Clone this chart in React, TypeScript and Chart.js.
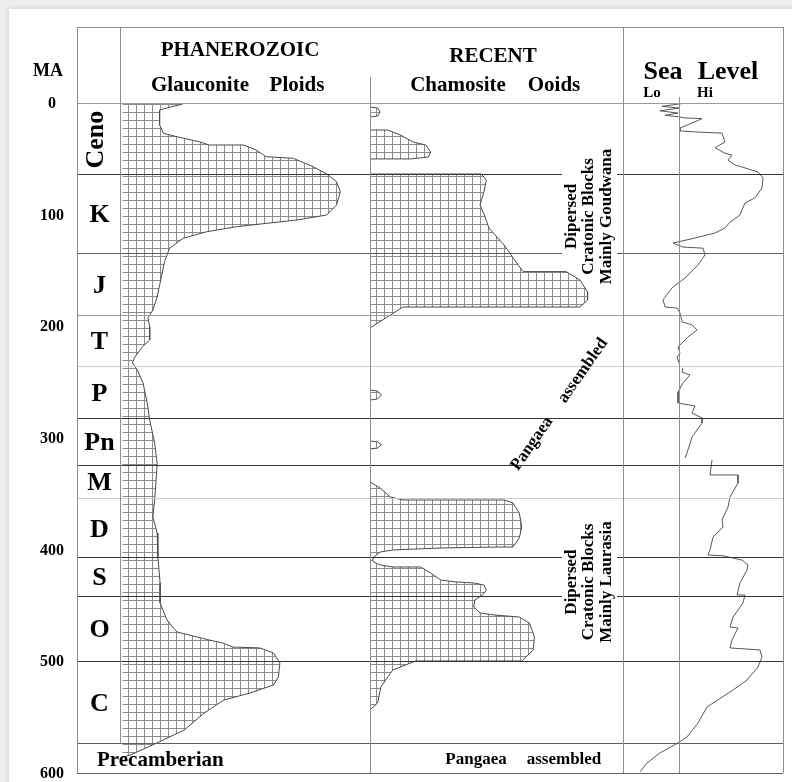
import React, { useEffect, useRef } from 'react';
import { Chart, registerables } from 'chart.js';

Chart.register(...registerables);

// Age axis (millions of years)
const ageTicks = [0, 100, 200, 300, 400, 500, 600];

// Geological periods: name and age of the lower boundary (Ma)
const periodNames = ['Ceno', 'K', 'J', 'T', 'P', 'Pn', 'M', 'D', 'S', 'O', 'C', 'Precamberian'];
const periodBase = [64, 134, 190, 235.5, 282, 324, 354, 407, 441.5, 500, 573, 600];
const boundaryTone = ['dark', 'mid', 'soft', 'light', 'dark', 'dark', 'light', 'dark', 'dark', 'dark', 'mid'];

// Phanerozoic glauconite ploids: relative abundance against age
const glaucAge = [0, 1.2, 3.3, 6.3, 19.7, 27.1, 30.2, 34.7, 37.6, 37.6, 42.1, 48.1, 49.5, 57, 63.6, 70.5, 79.4, 91.3, 100.3, 104.8,
  107.7, 110.8, 115.3, 121.2, 130.1, 142.1, 173.7, 185.3, 192.5, 200.6, 212.2, 218.5, 227.5, 232.8, 239.1, 250.7, 268.7, 283.9, 304.5, 322.4,
  340.3, 355.5, 370.7, 385.1, 406.6, 429.8, 447.7, 463, 473.7, 480.9, 483.6, 487.2, 488, 492.5, 501.5, 514, 521.2, 528.4, 534.6, 546.3,
  561.5, 570.5, 576.8, 584, 586];
const glaucValue = [24, 24, 20, 15, 15, 16.5, 22, 31, 35, 49, 54, 58, 69, 77, 82.5, 86.5, 88, 86.5, 82.5, 70.5,
  58.5, 46, 34, 24.5, 19, 17, 14, 12.3, 10.3, 11, 11, 8, 5, 4, 6, 8.3, 10, 11, 13, 14,
  13.5, 13, 12.3, 14, 14.3, 15.2, 15.2, 18, 22, 35, 40.5, 44.5, 55.5, 61, 63.6, 63, 61, 51.5, 41, 33,
  25, 16.4, 10.3, 3, 0];

// Recent chamosite ooids: relative abundance against age
const chamAge = [3.6, 4.5, 8.1, 11.7, 12.5,
  24.2, 24.2, 28.7, 34.9, 37.6, 43.9, 48.4, 50.1, 50.1,
  63.6, 63.6, 69, 79.7, 91.3, 102.1, 111.9, 127.2, 143.3, 151, 151, 158.5, 169.3, 176.4, 182.7, 182.7, 201.5,
  257, 258, 261.5, 265, 266,
  302.7, 303.5, 306, 309, 309.8,
  339.4, 344.8, 352.8, 355.5, 355.5, 358.2, 367.2, 379.7, 389.5, 397.6, 397.6, 398.5, 400.3, 402.1, 406.6,
  409.3, 411, 413.7, 415.5, 415.5, 420.9, 427.2, 428.9, 429.8, 431.6, 436.1, 440.6, 445, 451.3, 456.7,
  458.5, 460.3, 465.7, 478.2, 489.8, 499.7, 499.7, 503.3, 507.8, 514, 523, 537.3, 543.5];
const chamValue = [0, 3, 4, 3, 0,
  0, 7, 12, 17, 22, 24, 23, 16, 0,
  0, 44, 46, 45, 43.5, 45.5, 47, 53, 58, 60.5, 77.5, 83, 86, 86, 83, 13, 0,
  0, 3, 4.5, 3, 0,
  0, 3, 4.5, 3, 0,
  0, 4, 8, 13, 53, 56.5, 59, 60, 59, 56.5, 51, 28, 9, 4, 1.5,
  1, 1.5, 4, 9, 20, 24, 28, 34, 41, 45, 46, 44.5, 41.5, 41, 43.5,
  49, 59, 63, 65, 64.5, 60, 18, 14, 9, 7, 4.3, 3, 0];

// Relative sea level (Lo < 0 < Hi) against age; null marks a break in the curve
const seaAge = [0.5, 3, 4.5, 7, 9, 11, 12.5, 13.4, 14, 18, 22.4, 25, 26, 27, 35, 40, 45, 46.6, 51, 55.5,
  57.3, 61.8, 67.2, 76, 85, 89.5, 95.8, 100.3, 106.6, 112, 116.4, 120.9, 125.4, 129, 130, 136, 145, 156.7, 165.6, 176.3,
  182.7, 183.6, 188, 196, 198.7, 203.3, 209.5, 218.5, 224, 227.5, 232.8, 235, 237.3, 240.9, 243.6, 250.7, 258.8, 268.7, 271.3, 277.6,
  282.1, 286.6, 299.1, 313.4, 317.9, 319, 319.7, 333.1, 333.1, 340.3, 352.8, 361.8, 373.4, 379.7, 388.7, 400.3, 404.8, 405.5, 409.3, 413.8,
  418.2, 429.8, 440.6, 440.6, 447.7, 460.3, 469.2, 470.1, 480.9, 488, 489.8, 496.1, 505.1, 516.7, 525.7, 540.9, 555.2, 567.7, 573.1, 582,
  591, 599];
const seaLevel = [3, -17, 0, -19, -1, -14, 1, 6, 23, 13, 1, 1, 19, 43, 46, 36, 46, 53, 49, 56,
  63, 79, 84, 83, 76, 66, 63, 61, 51, 46, 36, 16, -6, 4, 24, 26, 19, 6, -7, -16,
  -14, -2, 1, 3, 13, 18, 9, -1, 1, -2, 0, null, 4, 3, 11, 4, -1, -1, 16, 13,
  23, 23, 13, 8, 6, null, 33, 31, 59, 59, 51, 49, 43, 44, 34, 31, 29, 44, 63, 69,
  68, 61, 58, 66, 64, 54, 51, 59, 53, 51, 81, 83, 79, 68, 54, 28, 19, 8, -1, -19,
  -32, -39];

const SERIF = '"Liberation Serif", "Times New Roman", Times, serif';
const FRAME = '#8f8f8f';
const TONE: Record<string, string> = { dark: '#343434', mid: '#5e5e5e', soft: '#9a9a9a', light: '#cdcdcd' };
const OUTLINE = '#4a4a4a';

function makeHatch(): CanvasPattern | string {
  const tile = document.createElement('canvas');
  tile.width = 8;
  tile.height = 8;
  const g = tile.getContext('2d');
  if (!g) return '#e4e4e4';
  g.fillStyle = '#ffffff';
  g.fillRect(0, 0, 8, 8);
  g.strokeStyle = '#8c8c8c';
  g.lineWidth = 1;
  g.beginPath();
  g.moveTo(0.5, 0);
  g.lineTo(0.5, 8);
  g.moveTo(0, 0.5);
  g.lineTo(8, 0.5);
  g.stroke();
  return g.createPattern(tile, 'repeat') || '#e4e4e4';
}

const tablePlugin = {
  id: 'geoTable',
  afterDatasetsDraw(chart: any) {
    const { ctx } = chart;
    const ys = chart.scales.y;
    const xp = chart.scales.xPeriod;
    const xg = chart.scales.xGlauc;
    const xr = chart.scales.xRecent;
    const xs = chart.scales.xSea;
    const L = xp.left;
    const R = xs.right;
    const yAt = (ma: number) => ys.getPixelForValue(ma);
    const top = yAt(0);
    const bottom = yAt(600);
    const frameTop = top - 76;
    const snap = (v: number) => Math.round(v) + 0.5;

    ctx.save();
    ctx.lineWidth = 1;
    const h = (x1: number, x2: number, yy: number, c: string) => {
      ctx.strokeStyle = c;
      ctx.beginPath();
      ctx.moveTo(x1, snap(yy));
      ctx.lineTo(x2, snap(yy));
      ctx.stroke();
    };
    const v = (xx: number, y1: number, y2: number, c: string) => {
      ctx.strokeStyle = c;
      ctx.beginPath();
      ctx.moveTo(snap(xx), y1);
      ctx.lineTo(snap(xx), y2);
      ctx.stroke();
    };

    // rotated notes in the Recent column (centre y and half length in px)
    const noteX = xr.right - 34;
    const notes = [
      { cy: yAt(101.6), half: 67, lines: ['Dipersed', 'Cratonic Blocks', 'Mainly Goudwana'] },
      { cy: yAt(429), half: 63, lines: ['Dipersed', 'Cratonic Blocks', 'Mainly Laurasia'] },
    ];
    const gapFrom = xr.right - 61;
    const gapTo = xr.right - 6;

    // period boundaries
    periodBase.slice(0, -1).forEach((ma, i) => {
      const yy = yAt(ma);
      const c = TONE[boundaryTone[i]];
      const crossesNote = notes.some((n) => Math.abs(yy - n.cy) < n.half);
      if (crossesNote) {
        h(L, gapFrom, yy, c);
        h(gapTo, R, yy, c);
      } else {
        h(L, R, yy, c);
      }
    });

    // table frame
    h(L, R, frameTop, FRAME);
    h(L, R, top, TONE.soft);
    h(L, R, bottom, TONE.mid);
    v(L, frameTop, bottom, FRAME);
    v(xg.left, frameTop, yAt(periodBase[10]), FRAME);
    v(xr.left, top - 26, bottom, FRAME);
    v(xs.left, frameTop, bottom, FRAME);
    v(R, frameTop, bottom, FRAME);
    v(xs.getPixelForValue(0), top - 6, bottom, FRAME);

    // text
    ctx.fillStyle = '#000';
    const text = (s: string, x: number, y: number, size: number, align: CanvasTextAlign = 'center', base: CanvasTextBaseline = 'middle', angle = 0) => {
      ctx.save();
      ctx.font = `bold ${size}px ${SERIF}`;
      ctx.textAlign = align;
      ctx.textBaseline = base;
      ctx.translate(x, y);
      if (angle) ctx.rotate(angle);
      ctx.fillText(s, 0, 0);
      ctx.restore();
    };

    // headers
    text('MA', L - 29, top - 32, 18);
    text('PHANEROZOIC', xg.left + 120, top - 52, 21);
    text('Glauconite', xg.left + 80, top - 17, 21);
    text('Ploids', xg.left + 177, top - 17, 21);
    text('RECENT', xr.left + 123, top - 46, 21);
    text('Chamosite', xr.left + 88, top - 17, 21);
    text('Ooids', xr.left + 184, top - 17, 21);
    const seaZero = xs.getPixelForValue(0);
    text('Sea', xs.left + 40, top - 31, 26);
    text('Level', xs.left + 105, top - 31, 26);
    text('Lo', xs.left + 29, top - 10, 15);
    text('Hi', seaZero + 26, top - 10, 15);

    // period labels
    const colMid = (xp.left + xp.right) / 2 + 1;
    periodNames.forEach((name, i) => {
      const y0 = yAt(i === 0 ? 0 : periodBase[i - 1]);
      const y1 = yAt(periodBase[i]);
      const cy = (y0 + y1) / 2;
      if (name === 'Ceno') {
        text(name, xp.left + 26, cy + 1, 26, 'center', 'alphabetic', -Math.PI / 2);
      } else if (name === 'Precamberian') {
        text(name, xp.left + 20, cy + 3, 21, 'left');
      } else {
        text(name, colMid, cy + 2, 26);
      }
    });

    // notes
    notes.forEach((n) => {
      n.lines.forEach((s, k) => {
        ctx.save();
        ctx.font = `bold 17px ${SERIF}`;
        ctx.textAlign = 'center';
        ctx.textBaseline = 'middle';
        ctx.translate(noteX, n.cy);
        ctx.rotate(-Math.PI / 2);
        ctx.fillText(s, 0, (k - 1) * 17.5);
        ctx.restore();
      });
    });
    const tilt = -55 * Math.PI / 180;
    text('Pangaea', xr.left + 162, yAt(305), 17, 'center', 'middle', tilt);
    text('assembled', xr.left + 213, yAt(239.6), 17, 'center', 'middle', tilt);
    const pcY = (yAt(periodBase[10]) + yAt(600)) / 2 + 2;
    text('Pangaea', xr.left + 106, pcY, 17);
    text('assembled', xr.left + 194, pcY, 17);

    ctx.restore();
  },
};

export default function App() {
  const canvasRef = useRef<HTMLCanvasElement>(null);

  useEffect(() => {
    const canvas = canvasRef.current;
    if (!canvas) return;
    const hatch = makeHatch();
    Chart.defaults.font.family = SERIF;

    const outlineSegment = {
      borderColor: (c: any) => (c.p0.parsed.x === 0 && c.p1.parsed.x === 0 ? 'rgba(0,0,0,0)' : OUTLINE),
    };

    const hidden = {
      type: 'linear' as const,
      axis: 'x' as const,
      position: 'bottom' as const,
      stack: 'columns',
      display: false,
    };

    const chart = new Chart(canvas, {
      type: 'line',
      data: {
        datasets: [
          {
            label: 'Glauconite Ploids',
            xAxisID: 'xGlauc',
            yAxisID: 'y',
            data: glaucAge.map((a, i) => ({ x: glaucValue[i], y: a })),
            fill: 'origin',
            backgroundColor: hatch as any,
            borderColor: OUTLINE,
            borderWidth: 1,
            pointRadius: 0,
            segment: outlineSegment,
          },
          {
            label: 'Chamosite Ooids',
            xAxisID: 'xRecent',
            yAxisID: 'y',
            data: chamAge.map((a, i) => ({ x: chamValue[i], y: a })),
            fill: 'origin',
            backgroundColor: hatch as any,
            borderColor: OUTLINE,
            borderWidth: 1,
            pointRadius: 0,
            segment: outlineSegment,
          },
          {
            label: 'Sea Level',
            xAxisID: 'xSea',
            yAxisID: 'y',
            data: seaAge.map((a, i) => ({ x: seaLevel[i] as any, y: a })),
            fill: false,
            borderColor: '#585858',
            borderWidth: 1,
            pointRadius: 0,
            spanGaps: false,
          },
        ],
      },
      options: {
        responsive: false,
        animation: false,
        indexAxis: 'y',
        layout: { padding: { left: 17, right: 9, top: 103, bottom: 9 } },
        plugins: { legend: { display: false }, tooltip: { enabled: false } },
        elements: { point: { radius: 0 }, line: { tension: 0 } },
        scales: {
          y: {
            type: 'linear',
            axis: 'y',
            position: 'left',
            reverse: true,
            min: 0,
            max: 600,
            afterBuildTicks: (s: any) => {
              s.ticks = ageTicks.map((value) => ({ value }));
            },
            afterFit: (s: any) => {
              s.width = 60;
              s.paddingTop = 0;
              s.paddingBottom = 0;
            },
            ticks: {
              color: '#000',
              font: { family: SERIF, weight: 'bold', size: 16 },
              crossAlign: 'center',
              padding: 13,
              labelOffset: 1,
            },
            grid: { display: false, drawTicks: false },
            border: { display: false },
          },
          xPeriod: { ...hidden, stackWeight: 43, min: 0, max: 1 },
          xGlauc: { ...hidden, stackWeight: 250, min: -1, max: 100 },
          xRecent: { ...hidden, stackWeight: 253, min: 0, max: 100 },
          xSea: { ...hidden, stackWeight: 160, min: -56, max: 104 },
        } as any,
      },
      plugins: [tablePlugin],
    });

    return () => chart.destroy();
  }, []);

  return (
    <div style={{ position: 'fixed', left: 0, top: 0, width: 792, height: 782, background: '#eeeeee', overflow: 'hidden' }}>
      <div
        style={{
          position: 'absolute',
          left: 9,
          top: 9,
          width: 800,
          height: 800,
          background: '#ffffff',
          boxShadow: '0 0 6px rgba(0,0,0,0.14)',
        }}
      />
      <canvas ref={canvasRef} width={792} height={782} style={{ position: 'absolute', left: 0, top: 0 }} />
    </div>
  );
}
